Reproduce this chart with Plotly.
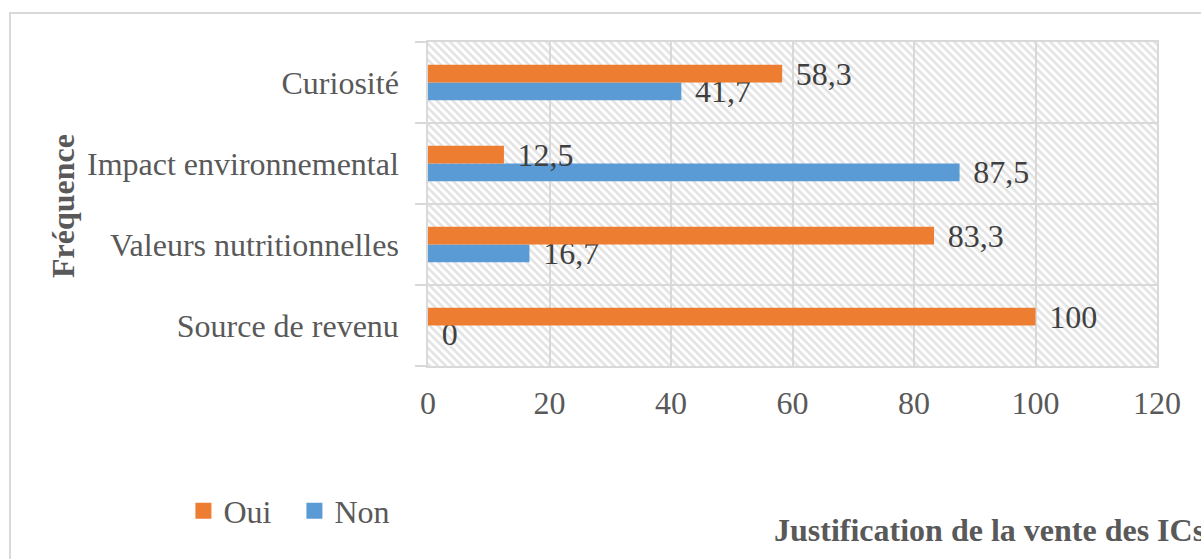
import base64
import plotly.graph_objects as go

# Categories (bottom to top) and percentages per answer
categories = ["Source de revenu", "Valeurs nutritionnelles", "Impact environnemental", "Curiosité"]
oui = [100, 83.3, 12.5, 58.3]
non = [0, 16.7, 87.5, 41.7]
x_ticks = [0, 20, 40, 60, 80, 100, 120]

ORANGE = "#ED7D31"
BLUE = "#5B9BD5"
GRID = "#D9D9D9"
TEXT = "#595959"
LABEL = "#404040"
FONT = "Liberation Serif, Times New Roman, serif"


def fr(v):
    return f"{v:g}".replace(".", ",")


fig = go.Figure()
series = [("Non", non, BLUE), ("Oui", oui, ORANGE)]
for name, vals, color in series:
    fig.add_trace(go.Bar(
        name=name,
        legendgroup=name,
        showlegend=False,
        y=categories,
        x=vals,
        orientation="h",
        marker=dict(color=color, line=dict(width=0)),
        text=["\u00a0\u200a" + fr(v) for v in vals],
        textposition="outside",
        constraintext="none",
        cliponaxis=False,
        textfont=dict(family=FONT, size=32, color=LABEL),
    ))

# legend keys with larger square swatches
for name, vals, color in reversed(series):
    fig.add_trace(go.Scatter(
        name=name,
        legendgroup=name,
        x=[None], y=[None],
        mode="markers",
        marker=dict(symbol="square", size=17, color=color),
        hoverinfo="skip",
    ))

# diagonal hatch behind the plot area
hatch_svg = (
    '<svg xmlns="http://www.w3.org/2000/svg" width="729" height="324" viewBox="0 0 729 324" '
    'preserveAspectRatio="none">'
    '<defs><pattern id="h" patternUnits="userSpaceOnUse" width="5.66" height="5.66" '
    'patternTransform="rotate(45)">'
    '<rect x="0" y="0" width="5.66" height="2.6" fill="#E3E3E3"/></pattern></defs>'
    '<rect width="729" height="324" fill="#FFFFFF"/>'
    '<rect width="729" height="324" fill="url(#h)"/></svg>'
)
hatch_uri = "data:image/svg+xml;base64," + base64.b64encode(hatch_svg.encode()).decode()

fig.update_layout(
    width=1201,
    height=559,
    margin=dict(l=428, r=44, t=42, b=193),
    paper_bgcolor="white",
    plot_bgcolor="rgba(0,0,0,0)",
    separators=", ",
    barmode="group",
    bargap=0.56,
    bargroupgap=0,
    font=dict(family=FONT, size=32, color=TEXT),
    showlegend=True,
    legend=dict(
        orientation="h",
        x=-0.3355, xanchor="left",
        y=-0.447, yanchor="middle",
        entrywidth=66,
        entrywidthmode="pixels",
        font=dict(family=FONT, size=32, color=TEXT),
        bgcolor="rgba(0,0,0,0)",
    ),
    xaxis=dict(
        range=[0, 120],
        tickvals=x_ticks,
        showgrid=True,
        gridcolor=GRID,
        gridwidth=1.5,
        zeroline=False,
        showline=True,
        mirror=True,
        linecolor=GRID,
        linewidth=1.5,
        ticks="",
        tickfont=dict(family=FONT, size=32, color=TEXT),
        ticklabelstandoff=8,
    ),
    yaxis=dict(
        type="category",
        showgrid=True,
        gridcolor=GRID,
        gridwidth=1.5,
        tickson="boundaries",
        ticks="outside",
        ticklen=11,
        tickcolor=GRID,
        tickwidth=1.5,
        showline=True,
        mirror=True,
        linecolor=GRID,
        linewidth=1.5,
        tickfont=dict(family=FONT, size=32, color=TEXT),
        ticklabelstandoff=21,
    ),
    images=[dict(
        source=hatch_uri,
        xref="paper", yref="paper",
        x=0, y=1, sizex=1, sizey=1,
        xanchor="left", yanchor="top",
        sizing="stretch",
        layer="below",
    )],
    shapes=[dict(
        type="rect", xref="paper", yref="paper",
        x0=-0.5734, x1=1.08, y0=-0.65, y1=1.0895,
        line=dict(color=GRID, width=2),
        fillcolor="rgba(0,0,0,0)",
        layer="below",
    )],
    annotations=[
        dict(
            text="<b>Fréquence</b>",
            xref="paper", yref="paper",
            x=-0.5007, y=0.494,
            xanchor="center", yanchor="middle",
            textangle=-90,
            showarrow=False,
            font=dict(family=FONT, size=32, color=TEXT),
        ),
        dict(
            text="<b>Justification de la vente des ICs</b>",
            xref="paper", yref="paper",
            x=0.472, y=-0.506,
            xanchor="left", yanchor="middle",
            showarrow=False,
            font=dict(family=FONT, size=32, color=TEXT),
        ),
    ],
)

fig.write_html("out.html")
